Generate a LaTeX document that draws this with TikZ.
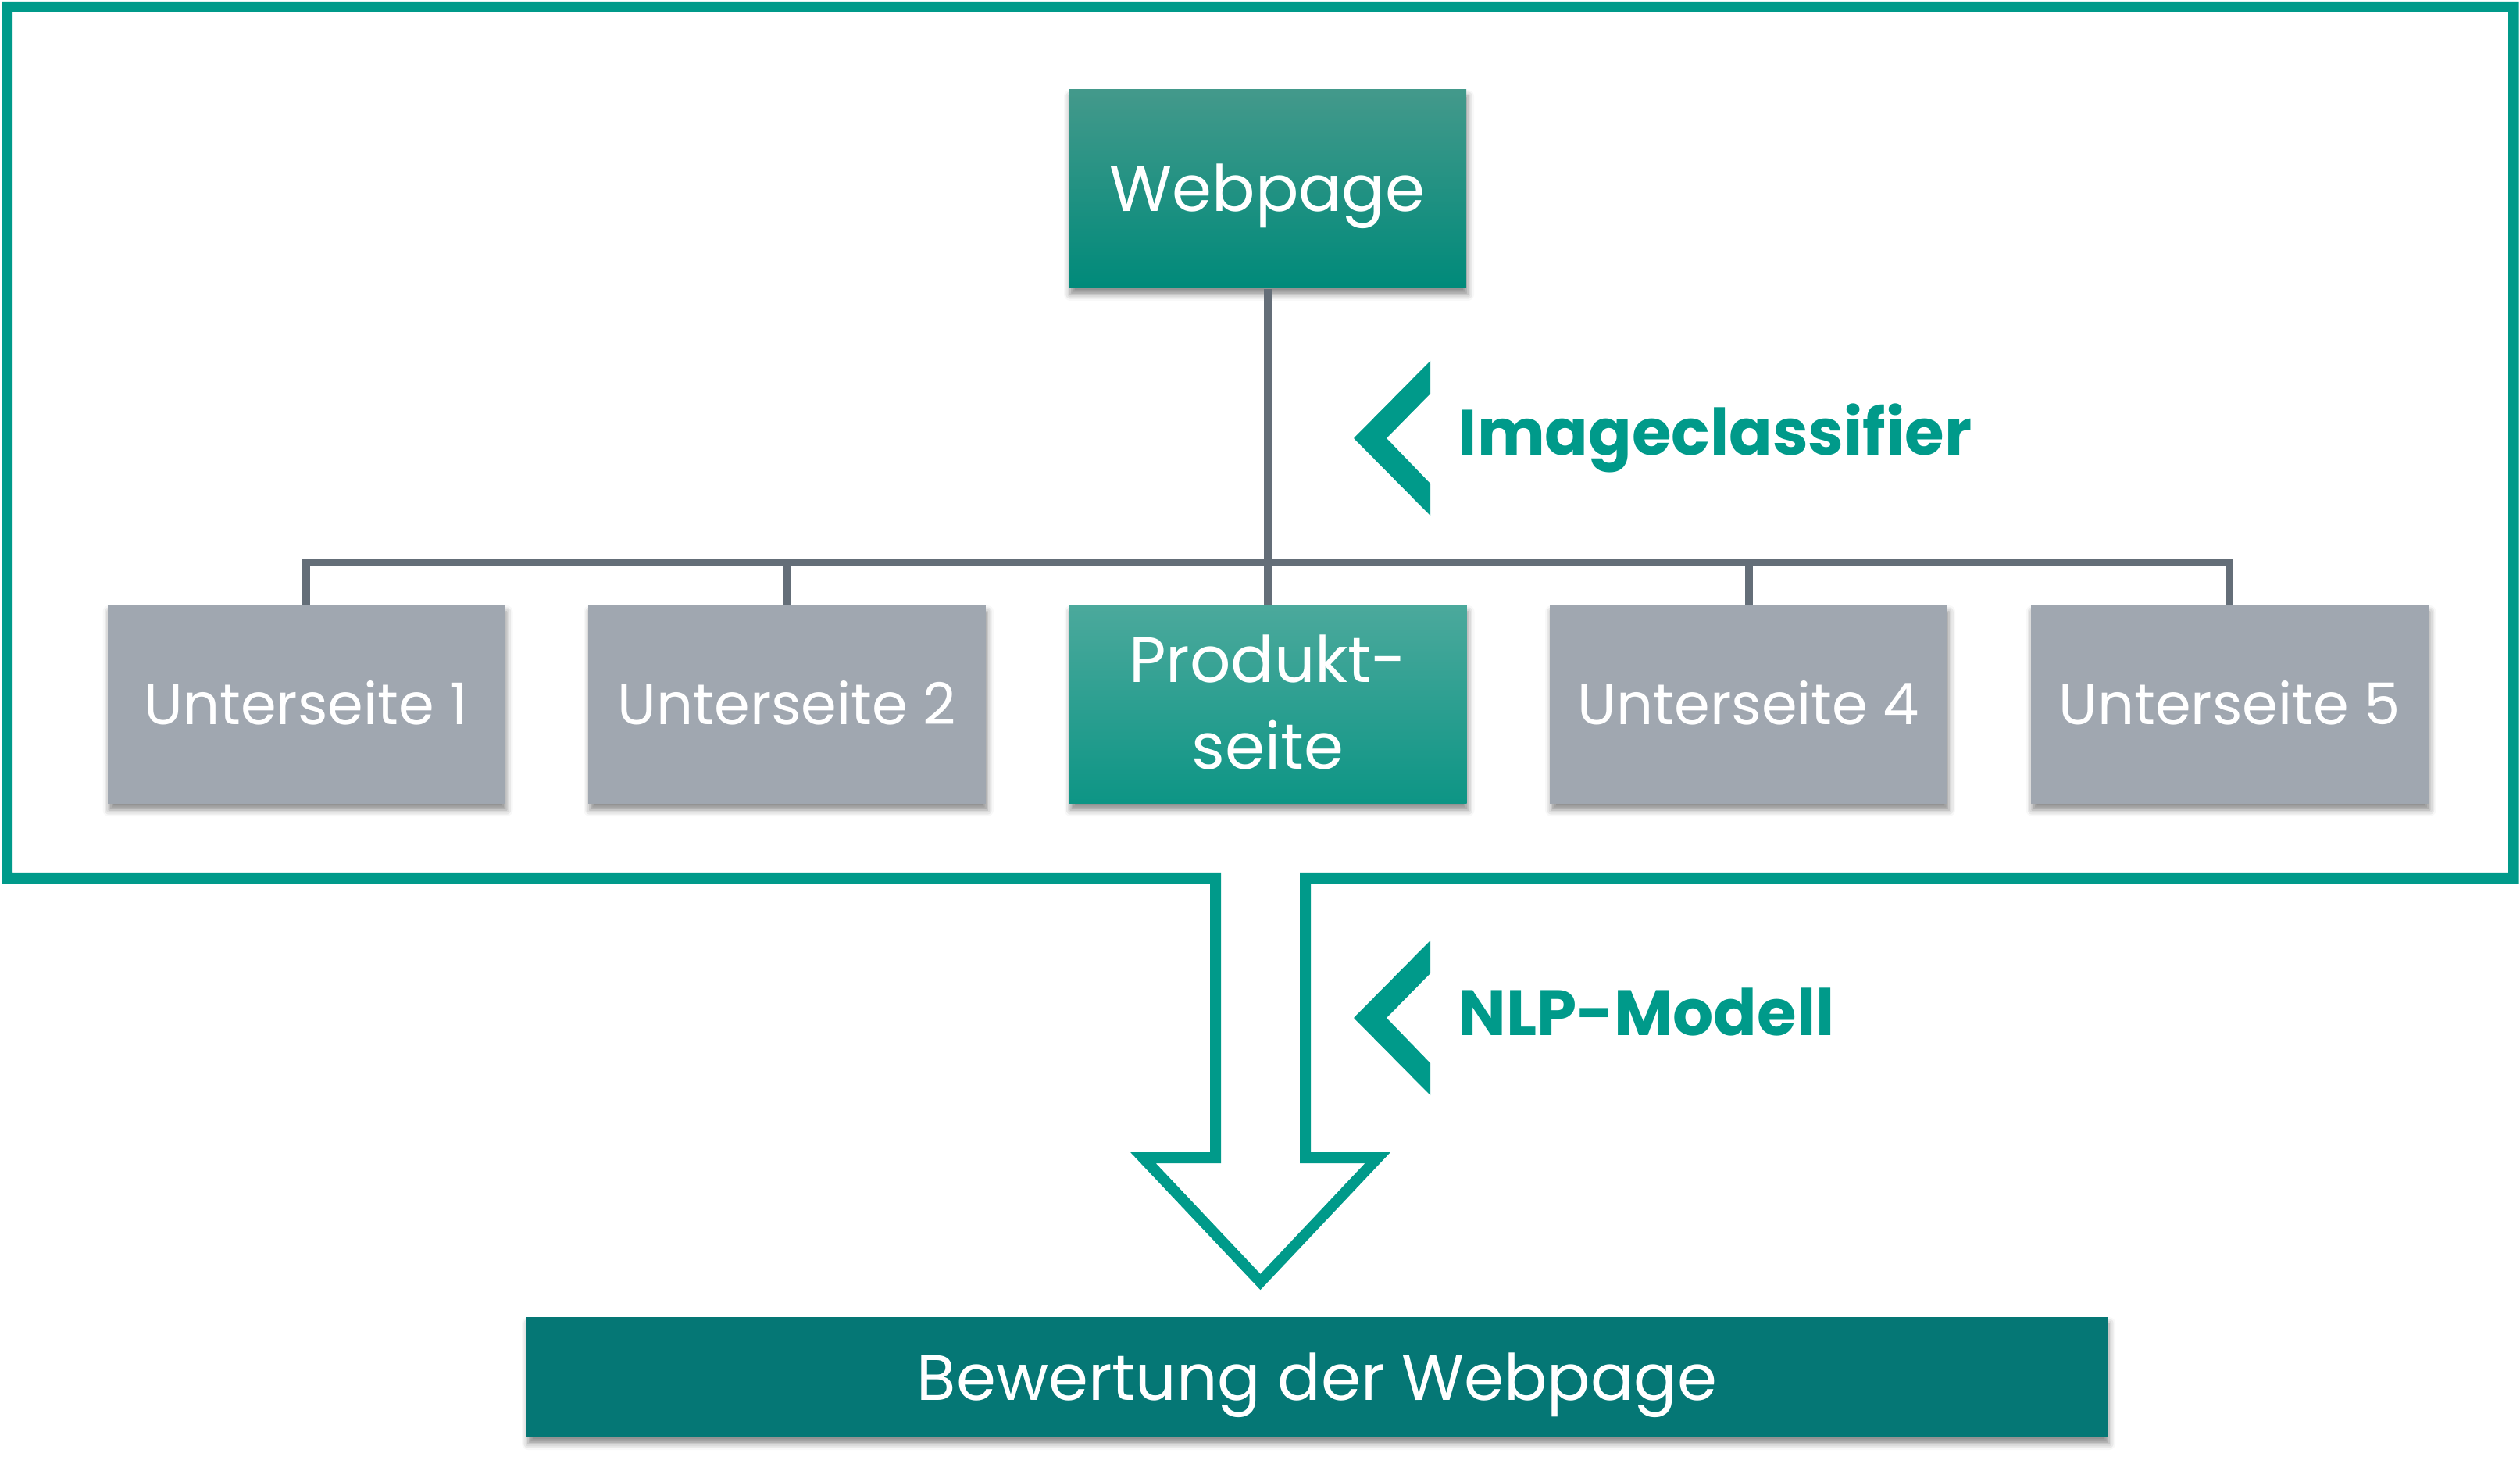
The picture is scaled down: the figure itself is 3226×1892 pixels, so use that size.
\documentclass[tikz,border=0pt]{standalone}
\usepackage{fontspec}
\setmainfont{Poppins}
\usetikzlibrary{shadows.blur}

\definecolor{tealline}{HTML}{009A8A}
\definecolor{webtop}{HTML}{43998B}
\definecolor{webbot}{HTML}{008A7A}
\definecolor{prodtop}{HTML}{4BA99C}
\definecolor{prodbot}{HTML}{0D9585}
\definecolor{subgray}{HTML}{A0A7B0}
\definecolor{conngray}{HTML}{646E78}
\definecolor{bewcol}{HTML}{057775}

\tikzset{
	pagebox/.style = {minimum width = 127.25pt, minimum height = 63.5pt, inner sep = 0pt,
		text = white, font = \fontsize{20.5}{27.75}\selectfont,
		text height = 14.5pt, text depth = 0pt,
		blur shadow = {shadow xshift = 0.5pt, shadow yshift = -2pt, shadow blur radius = 2pt, shadow opacity = 45}},
	subbox/.style = {pagebox, fill = subgray, font = \fontsize{18.4}{24}\selectfont, text height = 12.9pt},
	mainbox/.style = {pagebox, top color = webtop, bottom color = webbot},
	conn/.style = {draw = conngray, line width = 2.5pt},
	lbl/.style = {anchor = west, inner sep = 0pt, text = tealline,
		font = \fontsize{20.5}{24}\selectfont\bfseries, text height = 14.75pt, text depth = 0pt}
}

\begin{document}
\begin{tikzpicture}[x = 0.25pt, y = -0.25pt]
\useasboundingbox (0,0) rectangle (3226,1892);

\draw[tealline, line width = 3.5pt, line join = miter]
	(1556,1124) -- (9,1124) -- (9,9) -- (3217.5,9) -- (3217.5,1124) -- (1671,1124)
	-- (1671,1482) -- (1763.7,1482) -- (1613.5,1641) -- (1463.3,1482) -- (1556,1482) -- cycle;

\node[mainbox] (web) at (1622.5,242) {Webpage};
\node[mainbox, top color = prodtop, bottom color = prodbot, align = center,
	text height = {}, text depth = {}] (prod) at (1623,902) {Produkt-\\seite\rule[-1.5pt]{0pt}{0pt}};
\foreach \n/\x/\t in {u1/392/Unterseite 1, u2/1007.5/Unterseite 2, u4/2238.5/Unterseite 4, u5/2854/Unterseite 5}
	\node[subbox] (\n) at (\x,902) {\t};

\coordinate (bus) at (0,720);
\draw[conn] (web.south) -- (web.south |- prod.north);
\draw[conn] (u1.north) -- (u1.north |- bus) -| (u5.north);
\foreach \n in {u2,u4}
	\draw[conn] (\n.north) -- (\n.north |- bus);

\foreach \dy in {0,742}
	\fill[tealline] (1831,462+\dy) -- (1733,561+\dy) -- (1831,660+\dy) -- (1831,619+\dy)
		-- (1775,561+\dy) -- (1831,504+\dy) -- cycle;
\node[lbl] (lblimg) at (1866,553.5) {Imageclassifier};
\node[lbl] (lblnlp) at (1866,1296) {NLP-Modell};

\node[pagebox, fill = bewcol, minimum width = 506pt, minimum height = 38.5pt] (bew) at (1686,1763) {Bewertung der Webpage};
\end{tikzpicture}
\end{document}
